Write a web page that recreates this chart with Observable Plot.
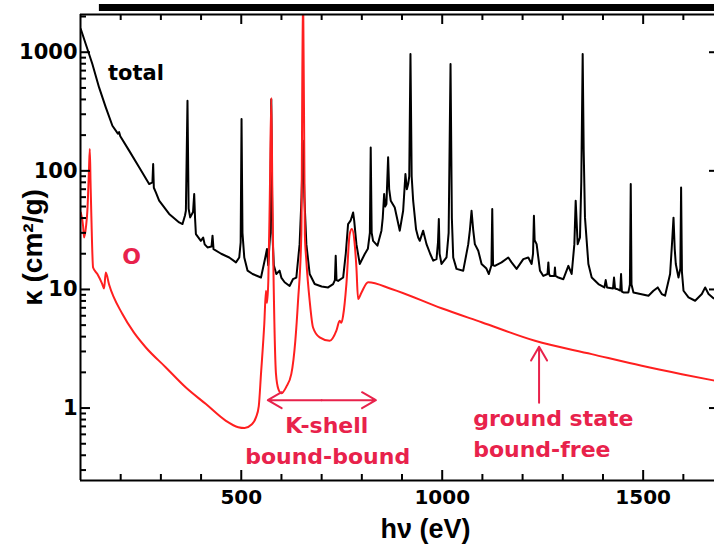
<!DOCTYPE html>
<html><head><meta charset="utf-8">
<script src="https://cdn.jsdelivr.net/npm/d3@7"></script>
<script src="https://cdn.jsdelivr.net/npm/@observablehq/plot@0.6"></script>
<style>html,body{margin:0;padding:0;background:#fff;overflow:hidden}</style>
</head><body><div id="chart"></div>
<script>
// photon energy (eV) and opacity kappa (cm^2/g) for the total mixture
const totalE = [100.7,113,121.3,129.5,146.2,162.9,179.4,193,196,199,221,245.9,270.8,279,280.8,282.5,287.5,295.7,320.6,345.5,353.8,360,362.2,366.2,369,372.9,380,382.9,385,387.1,399.5,405.2,409,416,426,428.5,431,450,470.1,486.8,495,498.5,500.7,503,507.5,515.7,528.2,549.1,559.8,564,567,572,574.7,577.5,581,587.2,595.4,600,607.9,620.3,628.6,637,645.2,650,653.7,657,662,670.2,682.7,700,716.1,728.5,733,735,737,741,753.5,760,765.8,772,778.3,781,786.5,794.8,807.3,815,820,822.1,824.5,828,838.8,848.8,852,855.5,858,861.2,865.4,868,871.9,881.9,894.4,902.8,908.5,912,915.3,918,921,924,927.7,935,940.2,944.2,952.6,960.9,970,977.6,985.8,989.5,991.6,993.5,998.3,1010.7,1016,1020.7,1024,1027.4,1035.6,1052.3,1064.8,1069,1073,1077,1081.2,1089.7,1097.9,1110,1116,1122.5,1124.5,1126.5,1131,1147.7,1164.4,1172.6,1185.1,1201.8,1214.2,1222.5,1226,1228.2,1230,1234.9,1243.2,1251.6,1262,1264.1,1266,1268.1,1279,1280.5,1282,1289,1301.4,1313.9,1322.1,1328.8,1332.1,1337,1342.8,1346,1349.5,1352,1355.2,1363.7,1372,1388.6,1403.6,1406.8,1410,1425,1427.5,1430,1434.2,1443,1445,1447,1450.9,1463.3,1467,1469.1,1471,1475.8,1513.2,1525.6,1536.3,1546.3,1554.5,1567,1572,1575.5,1578.5,1581.2,1587.9,1592.5,1594.4,1596.5,1600.4,1612.8,1629.3,1646,1654.3,1662.7,1674.2,1680];
const totalK = [1570,1173,966,795,505,343,240,206,212,196,148,107,77.4,80,114,72,65.8,56,43.3,36.7,35.6,42,46.1,390,48,40.5,45,63.7,40,29.3,25.7,27.4,24,22.6,23,28.4,21.9,20,18.6,16.9,18.6,25,273,30,18.6,14.4,13.5,12.6,18.6,21.9,16,30,400,30,16,13.5,14.4,12.5,11.5,10.7,12.2,12.6,24.1,60,179,60,24.1,13.5,11.1,10.6,10.4,11.1,12,19.2,12,11.8,12.6,20,35.6,38,44.6,38,24.1,16.4,19.9,22,30,157,30,25.7,23.4,31.3,40,63.7,50,52.5,130,70,56,49.1,31.3,46.1,94,70,77.4,90,966,90,56,32,27.4,25.7,31.3,24.1,20,17.5,18,25,39.2,20,16.4,18.6,30,795,40,18.6,14.9,14.4,24.1,32,46.1,32,24.1,21.2,16.4,15,13.5,16,47.6,16,15.8,16.9,18.6,16.9,14.9,18,18.6,16.4,20,41.8,26,24.1,14.4,13,13.5,16.9,13.5,13,13,15.3,13,12.6,12.2,15.8,13.5,24.1,56,24.1,27.4,80,966,150,40.5,16.4,12.6,11.1,10.4,12,10.4,10.2,12.6,10.2,10.1,9.8,13.5,9.6,9.44,9.44,11,77.4,11,9.44,8.85,9.75,10.4,9.15,8.85,13.5,25,40.3,22,16.4,12.6,15,72.4,14,9.75,8.57,8.03,9.15,10.4,9.15,8.46,8.3];
// oxygen contribution
const oE = [100.7,106.4,108.9,113.9,117.1,121,123.1,125,127,131.3,142,153.7,158.7,162.9,171.1,204.3,232.7,262.6,312.4,362.2,412.1,461.9,492.5,508.2,524.9,536.6,543.6,549.1,557.3,561.5,564,567.3,571,574.7,577.5,579.7,586.4,592.2,599.7,612.1,624.6,634.5,641.3,649.5,653.7,658.2,661.9,670.2,678.6,695.1,720,736.7,744.9,749.1,753.4,761.6,769.8,775.3,781.5,786.5,790.7,798.9,815.6,873.7,998.3,1097.9,1230.7,1372,1496.5,1596.2,1679];
const oK = [44.6,34.4,27.4,34.4,46.1,100,153,80,41.8,15.3,13.5,11.2,10.2,13.9,11,6.2,4.34,3.24,2.2,1.49,1.08,0.78,0.689,0.678,0.723,0.834,1.04,1.94,5.11,9.75,7.7,11.8,60,413,60,17.5,1.94,1.45,1.33,1.51,1.94,3.69,8.03,29.3,4000,29.3,17.5,8.03,4.78,3.94,3.69,4.49,5.45,5.24,6.0,11.1,29.3,32.3,25.7,15.3,8.3,9.38,11.5,10.1,6.94,5.29,3.69,2.85,2.27,1.93,1.70];

const xMajorTicks = [500, 1000, 1500];
const xMinorTicks = [200, 300, 400, 600, 700, 800, 900, 1100, 1200, 1300, 1400, 1600];
const yMajorTicks = [1, 10, 100, 1000];
const yMinorTicks = [0.3,0.4,0.5,0.6,0.7,0.8,0.9,2,3,4,5,6,7,8,9,20,30,40,50,60,70,80,90,200,300,400,500,600,700,800,900,2000];
const yTickLabels = ["1", "10", "100", "1000"];
const xTickLabels = ["500", "1000", "1500"];

const total = totalE.map((e, i) => ({e, k: totalK[i]}));
const oxygen = oE.map((e, i) => ({e, k: oK[i]}));

const W = 714, H = 547, mL = 80, mR = 0, mT = 14, mB = 67;
const fw = W - mL - mR, fh = H - mT - mB;
const xDom = [100, 1677.5], yDom = [0.245, 2080];
const RED = "#ff1f1f", ANN = "#e8224b";
const FONT = "DejaVu Sans";

const chart = Plot.plot({
  width: W, height: H,
  marginLeft: mL, marginRight: mR, marginTop: mT, marginBottom: mB,
  style: {fontFamily: FONT, background: "#fff", color: "#000", overflow: "visible"},
  x: {type: "linear", domain: xDom, axis: null},
  y: {type: "log", domain: yDom, axis: null},
  marks: [
    // data
    Plot.line(total, {x: "e", y: "k", stroke: "#000", strokeWidth: 2, clip: true}),
    Plot.line(oxygen, {x: "e", y: "k", stroke: RED, strokeWidth: 2, curve: "monotone-x", clip: true}),
    // frame lines
    Plot.ruleX([xDom[0]], {strokeWidth: 2}),
    Plot.ruleY([yDom[0]], {strokeWidth: 2}),
    Plot.ruleY([yDom[1]], {strokeWidth: 2}),
    Plot.ruleY([yDom[1]], {x1: 147, x2: xDom[1], dy: -7, strokeWidth: 7}),
    // inward ticks
    Plot.tickX(xMajorTicks, {x: d => d, insetTop: fh - 10, strokeWidth: 2}),
    Plot.tickX(xMinorTicks, {x: d => d, insetTop: fh - 6, strokeWidth: 2}),
    Plot.tickX(xMajorTicks, {x: d => d, insetBottom: fh - 10, strokeWidth: 2}),
    Plot.tickX(xMinorTicks, {x: d => d, insetBottom: fh - 6, strokeWidth: 2}),
    Plot.tickY(yMajorTicks, {y: d => d, insetRight: fw - 10, strokeWidth: 2}),
    Plot.tickY(yMinorTicks, {y: d => d, insetRight: fw - 6, strokeWidth: 2}),
    Plot.tickY(yMajorTicks, {y: d => d, insetLeft: fw - 5, strokeWidth: 2}),
    // tick labels
    Plot.text(xMajorTicks, {x: d => d, text: (d, i) => xTickLabels[i], frameAnchor: "bottom", lineAnchor: "top",
      dy: 9, fontSize: 20, fontWeight: "bold", fill: "#000"}),
    Plot.text(yMajorTicks, {y: d => d, text: (d, i) => yTickLabels[i], frameAnchor: "left", textAnchor: "end",
      dx: -3, fontSize: 21, fontWeight: "bold", fill: "#000"}),
    // axis titles
    Plot.text(["hν (eV)"], {frameAnchor: "bottom", text: d => d, dx: 28, dy: 57,
      fontSize: 27, fontWeight: "bold", fontFamily: "Liberation Sans", fill: "#000"}),
    Plot.text(["κ (cm²/g)"], {frameAnchor: "left", text: d => d, textAnchor: "middle", dx: -47, rotate: -90,
      fontSize: 28, fontWeight: "bold", fontFamily: "Liberation Sans", fill: "#000"}),
    // annotations
    Plot.text([{e: 238, k: 668, t: "total"}], {x: "e", y: "k", text: "t", fontSize: 21, fontWeight: "bold", fill: "#000"}),
    Plot.text([{e: 227, k: 18.9, t: "O"}], {x: "e", y: "k", text: "t", fontSize: 22, fontWeight: "bold", fill: ANN}),
    Plot.text([{e: 713, k: 0.709, t: "K-shell"}, {e: 715, k: 0.388, t: "bound-bound"}],
      {x: "e", y: "k", text: "t", fontSize: 22, fontWeight: "bold", fill: ANN}),
    Plot.text([{e: 1077, k: 0.812, t: "ground state"}, {e: 1077, k: 0.445, t: "bound-free"}],
      {x: "e", y: "k", text: "t", textAnchor: "start", fontSize: 22, fontWeight: "bold", fill: ANN}),
    Plot.arrow([{a: 700, b: 566}, {a: 700, b: 835}], {x1: "a", x2: "b", y1: 1.164, y2: 1.164,
      stroke: ANN, strokeWidth: 2, headLength: 12}),
    Plot.arrow([{e: 1241, k1: 1.11, k2: 3.29}], {x1: "e", x2: "e", y1: "k1", y2: "k2",
      stroke: ANN, strokeWidth: 2, headLength: 12})
  ]
});
document.getElementById("chart").appendChild(chart);
</script>
</body></html>
